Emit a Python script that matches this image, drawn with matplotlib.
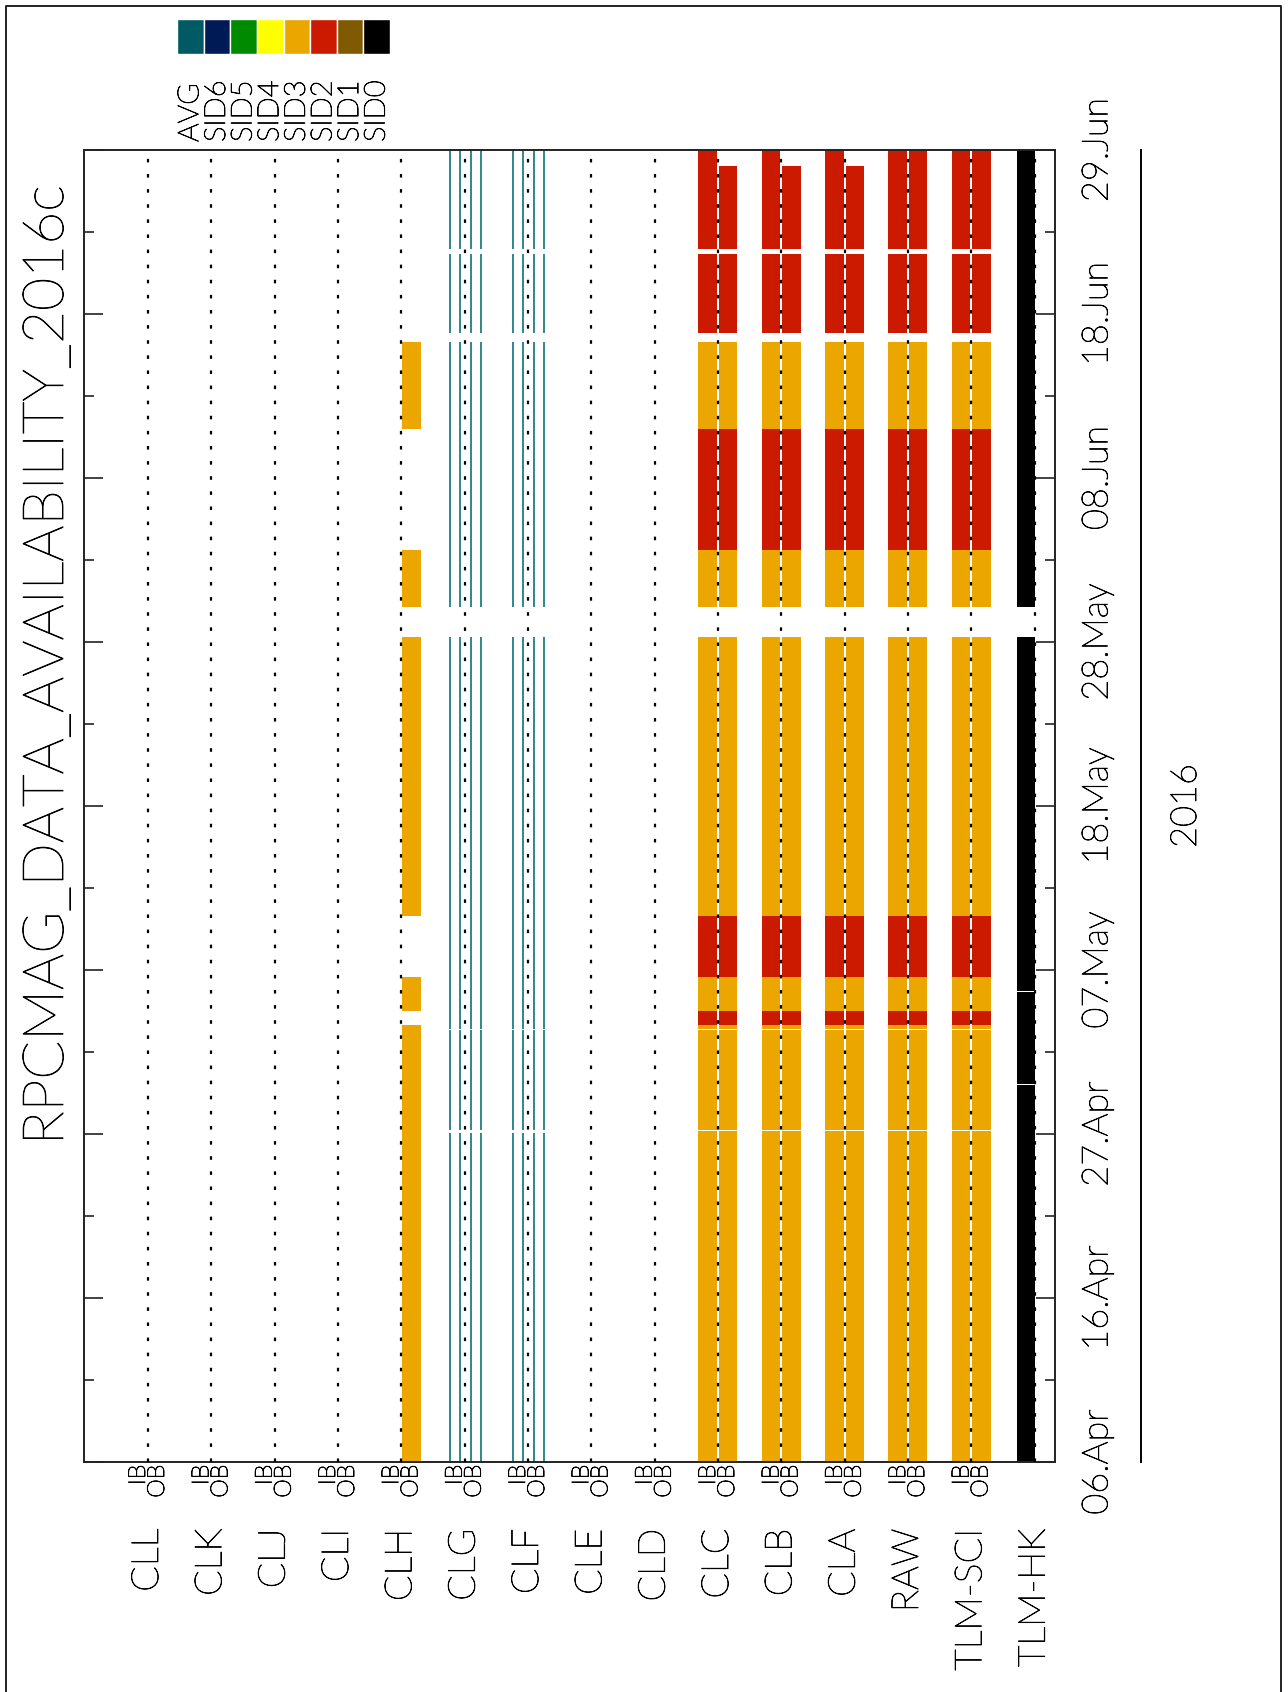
import numpy as np
import matplotlib.pyplot as plt
import matplotlib.patheffects as pe
from matplotlib.text import Text
from matplotlib.lines import Line2D
from matplotlib.transforms import blended_transform_factory

plt.rcParams['font.family'] = ['Lato', 'DejaVu Sans']
plt.rcParams['font.weight'] = 'light'

title = "RPCMAG_DATA_AVAILABILITY_2016c"
rows = ["CLL", "CLK", "CLJ", "CLI", "CLH", "CLG", "CLF", "CLE", "CLD",
        "CLC", "CLB", "CLA", "RAW", "TLM-SCI", "TLM-HK"]
# days since 06.Apr 2016 00:00, ticks every 10.5 days
date_ticks = [0, 10.5, 21, 31.5, 42, 52.5, 63, 73.5, 84]
date_labels = ["06.Apr", "16.Apr", "27.Apr", "07.May", "18.May",
               "28.May", "08.Jun", "18.Jun", "29.Jun"]
legend_names = ["AVG", "SID6", "SID5", "SID4", "SID3", "SID2", "SID1", "SID0"]
legend_colors = ["#005a64", "#001a55", "#008a00", "#ffff00",
                 "#eba600", "#cc1a00", "#7f5a00", "#000000"]
sid_color = dict(zip(legend_names, legend_colors))

# IB coverage of CLC / CLB / CLA / RAW / TLM-SCI
ib_start = [0.0, 21.09, 21.26, 27.70, 27.98, 28.88, 31.07, 34.98, 54.76, 58.39, 66.16, 72.30, 77.64]
ib_end = [21.05, 21.22, 27.64, 27.98, 28.88, 31.07, 34.98, 52.82, 58.39, 66.16, 71.73, 77.32, 84.0]
ib_sid = ["SID3", "SID3", "SID3", "SID3", "SID2", "SID3", "SID2", "SID3",
          "SID3", "SID2", "SID3", "SID2", "SID2"]
# OB of CLC / CLB / CLA stops a bit earlier
ob_short_end = ib_end[:-1] + [82.98]

# CLH has OB data only
clh_start = [0.0, 21.08, 28.88, 34.98, 54.76, 66.16]
clh_end = [21.04, 27.98, 31.07, 52.82, 58.39, 71.73]

# AVG traces in CLG and CLF
avg_start = [0.0, 21.26, 27.70, 54.76, 72.30, 77.64]
avg_end = [21.05, 27.64, 52.82, 71.73, 77.32, 84.0]
avg_offsets = [-0.23, -0.08, 0.10, 0.25]

# housekeeping telemetry
hk_start = [0.0, 24.22, 30.13, 54.76]
hk_end = [24.15, 30.09, 52.82, 84.0]

W, H = 1288, 1692
fig = plt.figure(figsize=(W / 100, H / 100), dpi=100)


def fx(px):
    return px / W


def fy(py):
    return 1 - py / H


ax = fig.add_axes([fx(84), fy(1462), fx(1055) - fx(84), fy(150) - fy(1462)])
xpos = {name: i + 1 for i, name in enumerate(rows)}


def draw(row, side, starts, ends, sids):
    r = xpos[row]
    if side == "IB":
        left, width = r - 0.31, 0.295
    elif side == "OB":
        left, width = r + 0.015, 0.29
    else:
        left, width = r - 0.28, 0.28
    ax.bar([left] * len(starts), np.array(ends) - np.array(starts), bottom=starts,
           width=width, align='edge', color=[sid_color[s] for s in sids],
           linewidth=0, zorder=2)


for name in ["CLC", "CLB", "CLA", "RAW", "TLM-SCI"]:
    draw(name, "IB", ib_start, ib_end, ib_sid)
    ob_end = ib_end if name in ("RAW", "TLM-SCI") else ob_short_end
    draw(name, "OB", ib_start, ob_end, ib_sid)
draw("CLH", "OB", clh_start, clh_end, ["SID3"] * len(clh_start))
draw("TLM-HK", "HK", hk_start, hk_end, ["SID0"] * len(hk_start))

for name in ["CLG", "CLF"]:
    for off in avg_offsets:
        ax.vlines([xpos[name] + off] * len(avg_start), avg_start, avg_end,
                  color="#237c84", lw=1.3, zorder=2)

for name in rows:
    ax.axvline(xpos[name], color='k', lw=1.6, ls=(0, (1.6, 5.2)), zorder=3)

ax.set_xlim(-0.01, 15.32)
ax.set_ylim(0, 84)
for s in ax.spines.values():
    s.set_linewidth(1.4)
    s.set_color('#222222')

ax.set_xticks([xpos[n] for n in rows], rows, fontsize=27)
ax.tick_params(axis='x', length=0, pad=48, labelrotation=90)

ax.set_yticks(date_ticks, date_labels, rotation=90, va='center', fontsize=26)
ax.set_yticks([t + 5.25 for t in date_ticks[:-1]], minor=True)
ax.tick_params(axis='y', which='both', direction='in', left=True, right=True,
               labelleft=False, labelright=True, width=1.2, color='#222222')
ax.tick_params(axis='y', which='major', length=14, pad=19)
ax.tick_params(axis='y', which='minor', length=7)

xt = ax.get_xaxis_transform()
for name in rows[:-1]:
    ax.text(xpos[name] - 0.15, -0.002, "IB", transform=xt, rotation=90,
            ha='center', va='top', fontsize=17)
    ax.text(xpos[name] + 0.15, -0.002, "OB", transform=xt, rotation=90,
            ha='center', va='top', fontsize=17)

# legend of source ids
ax_leg = fig.add_axes([fx(177), fy(54), fx(390) - fx(177), fy(19) - fy(54)])
ax_leg.bar(range(len(legend_names)), [1] * len(legend_names), width=1,
           color=legend_colors, edgecolor='white', linewidth=1)
ax_leg.set_xlim(-0.5, len(legend_names) - 0.5)
ax_leg.set_ylim(0, 1)
ax_leg.axis('off')
lt = blended_transform_factory(ax_leg.transData, fig.transFigure)
for i, name in enumerate(legend_names):
    ax_leg.text(i, fy(142), name, transform=lt, rotation=90,
                ha='center', va='bottom', fontsize=21)

fig.text(fx(47), fy(665), title, rotation=90, ha='center', va='center', fontsize=41)

# year axis on the right
fig.add_artist(Line2D([fx(1141)] * 2, [fy(150), fy(1462)], color='k', lw=1.4))
fig.text(fx(1170), fy(806), "2016", rotation=90, ha='left', va='center', fontsize=26)

# page frame
fig.add_artist(Line2D([fx(6), fx(6), fx(1281), fx(1281)], [0, fy(6), fy(6), 0],
                      color='#222222', lw=1.4))

# thin vector-like lettering, but dark
for t in fig.findobj(Text):
    t.set_color('black')
    t.set_path_effects([pe.withStroke(linewidth=0.6, foreground='black')])

fig.savefig("out.png", dpi=100)
